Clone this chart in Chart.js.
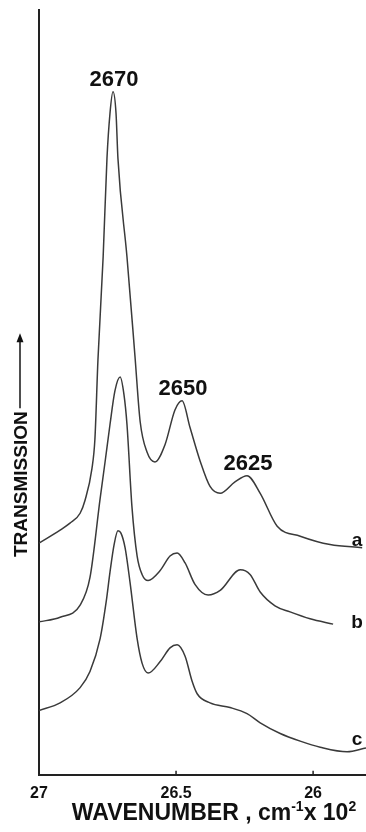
<!DOCTYPE html>
<html>
<head>
<meta charset="utf-8">
<script src="https://cdn.jsdelivr.net/npm/chart.js@4.4.1/dist/chart.umd.min.js"></script>
<style>
  html, body { margin: 0; padding: 0; background: #fff; }
  #wrap { width: 366px; height: 832px; }
</style>
</head>
<body>
<div id="wrap"><canvas id="myChart"></canvas></div>
<script>
// wavenumber (cm-1 x 10^2) and transmission (arbitrary units, 0-100)
const wnA = [27.0, 26.923, 26.887, 26.85, 26.832, 26.807, 26.796, 26.785, 26.766, 26.752, 26.741, 26.73, 26.719, 26.712, 26.679, 26.65, 26.631, 26.606, 26.577, 26.54, 26.504, 26.478, 26.449, 26.412, 26.376, 26.339, 26.285, 26.241, 26.193, 26.131, 26.047, 25.938, 25.821];
const tA = [30.3, 32.0, 32.9, 34.2, 35.9, 40.0, 43.9, 54.2, 67.7, 80.6, 86.5, 89.3, 86.5, 80.6, 67.7, 54.8, 46.2, 42.2, 40.9, 43.2, 47.7, 48.9, 45.4, 41.0, 37.7, 36.8, 38.3, 39.1, 36.8, 32.5, 31.2, 30.1, 29.7];

const wnB = [27.0, 26.923, 26.85, 26.814, 26.777, 26.759, 26.741, 26.723, 26.704, 26.69, 26.679, 26.661, 26.642, 26.624, 26.602, 26.558, 26.522, 26.496, 26.467, 26.431, 26.383, 26.339, 26.266, 26.23, 26.193, 26.139, 26.084, 26.011, 25.927];
const tB = [20.0, 20.6, 22.2, 25.8, 36.1, 40.9, 45.8, 50.2, 52.0, 49.7, 45.8, 35.1, 28.6, 26.2, 25.4, 26.7, 28.6, 29.0, 27.7, 24.9, 23.5, 24.1, 26.8, 26.2, 23.9, 22.1, 21.3, 20.4, 19.7];

const wnC = [27.0, 26.923, 26.85, 26.814, 26.777, 26.755, 26.741, 26.726, 26.712, 26.701, 26.686, 26.668, 26.642, 26.624, 26.602, 26.558, 26.522, 26.496, 26.467, 26.442, 26.423, 26.376, 26.303, 26.241, 26.193, 26.12, 26.047, 25.974, 25.876, 25.807];
const tC = [8.4, 9.4, 11.4, 13.5, 17.8, 22.6, 26.5, 30.1, 31.9, 31.6, 29.7, 25.2, 17.8, 14.6, 13.3, 14.8, 16.6, 17.0, 15.5, 12.3, 10.6, 9.4, 8.8, 8.0, 6.8, 5.4, 4.4, 3.6, 3.0, 3.5];

const seriesNames = ['a', 'b', 'c'];
const xTicks = [27, 26.5, 26];
const xTickLabels = ['27', '26.5', '26'];
const peakLabels = ['2670', '2650', '2625'];
const peakWn = [26.73, 26.478, 26.241];

const ink = '#111';
const fontFam = '"Liberation Sans", Arial, sans-serif';

function pts(xs, ys) {
    return xs.map((x, i) => ({x: x, y: ys[i]}));
}

const lineStyle = {
    borderColor: '#3a3a3a',
    borderWidth: 1.5,
    pointRadius: 0,
    fill: false,
    cubicInterpolationMode: 'monotone'
};

// extra drawing: peak labels, curve names, axis titles, small inner ticks
const annot = {
    id: 'annot',
    afterDatasetsDraw(chart) {
        const ctx = chart.ctx;
        const xs = chart.scales.x, ys = chart.scales.y;
        const area = chart.chartArea;
        ctx.save();
        ctx.fillStyle = ink;
        ctx.strokeStyle = '#222';

        // tiny tick marks pointing into the plot
        ctx.lineWidth = 1.5;
        xTicks.forEach(v => {
            const px = xs.getPixelForValue(v);
            ctx.beginPath();
            ctx.moveTo(px, area.bottom);
            ctx.lineTo(px, area.bottom - 4);
            ctx.stroke();
        });

        // peak labels above curve a
        ctx.font = 'bold 22px ' + fontFam;
        ctx.textAlign = 'center';
        ctx.textBaseline = 'alphabetic';
        peakLabels.forEach((lab, i) => {
            const k = wnA.indexOf(peakWn[i]);
            const px = xs.getPixelForValue(wnA[k]);
            const py = ys.getPixelForValue(tA[k]);
            ctx.fillText(lab, px + 1, py - 6);
        });

        // curve names at the right end
        ctx.font = 'bold 19px ' + fontFam;
        const ends = [[wnA, tA], [wnB, tB], [wnC, tC]];
        const offs = [-2, 4, -3];
        seriesNames.forEach((nm, i) => {
            const arr = ends[i];
            const py = ys.getPixelForValue(arr[1][arr[1].length - 1]);
            ctx.fillText(nm, area.right - 9, py + offs[i]);
        });

        // x axis title with superscripts
        const base = area.bottom + 45;
        const big = 'bold 23px ' + fontFam;
        const small = 'bold 14px ' + fontFam;
        const parts = [['WAVENUMBER , cm', big, 0], ['-1', small, -9], ['x 10', big, 0], ['2', small, -9]];
        let w = 0;
        parts.forEach(p => { ctx.font = p[1]; w += ctx.measureText(p[0]).width; });
        let cx = 214 - w / 2;
        ctx.textAlign = 'left';
        parts.forEach(p => {
            ctx.font = p[1];
            ctx.fillText(p[0], cx, base + p[2]);
            cx += ctx.measureText(p[0]).width;
        });

        // y axis title with arrow
        ctx.save();
        ctx.translate(27, 557);
        ctx.rotate(-Math.PI / 2);
        ctx.font = 'bold 19px ' + fontFam;
        ctx.textAlign = 'left';
        ctx.fillText('TRANSMISSION', 0, 0);
        const tw = ctx.measureText('TRANSMISSION').width;
        ctx.lineWidth = 1.6;
        ctx.beginPath();
        ctx.moveTo(tw + 3, -7);
        ctx.lineTo(tw + 72, -7);
        ctx.stroke();
        ctx.beginPath();
        ctx.moveTo(tw + 78, -7);
        ctx.lineTo(tw + 69, -10.5);
        ctx.lineTo(tw + 69, -3.5);
        ctx.closePath();
        ctx.fill();
        ctx.restore();

        ctx.restore();
    }
};

const myc = document.getElementById('myChart').getContext('2d');
const myChart = new Chart(myc, {
    type: 'line',
    data: {
        datasets: [
            Object.assign({label: seriesNames[0], data: pts(wnA, tA)}, lineStyle),
            Object.assign({label: seriesNames[1], data: pts(wnB, tB)}, lineStyle),
            Object.assign({label: seriesNames[2], data: pts(wnC, tC)}, lineStyle)
        ]
    },
    options: {
        responsive: true,
        maintainAspectRatio: false,
        animation: false,
        layout: {padding: {left: 39, right: 0, top: 10, bottom: 20}},
        plugins: {legend: {display: false}, tooltip: {enabled: false}},
        scales: {
            x: {
                type: 'linear',
                reverse: true,
                min: 25.807,
                max: 27.0,
                afterBuildTicks: axis => { axis.ticks = xTicks.map(v => ({value: v})); },
                ticks: {
                    color: ink,
                    padding: 9,
                    maxRotation: 0,
                    autoSkip: false,
                    font: {family: fontFam, size: 16, weight: 'bold'},
                    callback: (v) => xTickLabels[xTicks.indexOf(v)]
                },
                grid: {display: false, drawTicks: false},
                border: {display: true, color: '#222', width: 2}
            },
            y: {
                min: 0,
                max: 100,
                ticks: {display: false},
                grid: {display: false, drawTicks: false},
                border: {display: true, color: '#222', width: 2}
            }
        }
    },
    plugins: [annot]
});
</script>
</body>
</html>
